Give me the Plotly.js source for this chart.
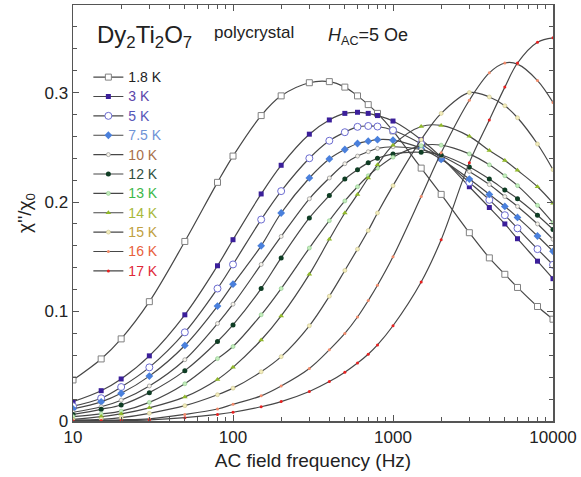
<!DOCTYPE html>
<html>
<head>
<meta charset="utf-8">
<script src="https://cdn.plot.ly/plotly-3.0.1.min.js"></script>
<style>html,body{margin:0;padding:0;background:#fff;}#chart{width:581px;height:477px;}</style>
</head>
<body>
<div id="chart"></div>
<script>
// Frequencies (Hz)
const freq = [10,15,20,30,50,80,100,150,200,300,400,500,600,700,800,1000,1500,2000,3000,4000,5000,6000,8000,10000];

// chi''/chi0 values per temperature
const T1_8 = [0.0375,0.0567,0.075,0.109,0.164,0.218,0.242,0.279,0.297,0.309,0.310,0.305,0.297,0.289,0.281,0.265,0.231,0.207,0.172,0.149,0.134,0.122,0.1046,0.093];
const T3   = [0.0177,0.0277,0.0384,0.0595,0.097,0.1418,0.1656,0.2074,0.2336,0.262,0.275,0.281,0.282,0.281,0.279,0.274,0.257,0.241,0.214,0.195,0.180,0.1665,0.146,0.130];
const T5   = [0.0135,0.0208,0.031,0.049,0.081,0.121,0.143,0.184,0.210,0.240,0.256,0.2638,0.2687,0.2695,0.269,0.2656,0.253,0.240,0.218,0.202,0.188,0.176,0.157,0.1427];
const T7_5 = [0.011,0.0175,0.0253,0.041,0.069,0.105,0.125,0.160,0.190,0.222,0.2394,0.248,0.2535,0.2556,0.257,0.2565,0.249,0.239,0.221,0.207,0.196,0.186,0.169,0.155];
const T10  = [0.008,0.013,0.019,0.032,0.056,0.089,0.1067,0.143,0.1686,0.203,0.222,0.235,0.242,0.246,0.249,0.2505,0.248,0.242,0.228,0.216,0.205,0.196,0.180,0.166];
const T12  = [0.006,0.0107,0.0146,0.0259,0.046,0.0726,0.0878,0.121,0.149,0.1855,0.206,0.221,0.2296,0.236,0.240,0.244,0.2455,0.243,0.232,0.221,0.211,0.203,0.188,0.175];
const T13  = [0.004,0.0065,0.009,0.017,0.034,0.057,0.068,0.097,0.121,0.158,0.183,0.201,0.214,0.224,0.231,0.241,0.2515,0.252,0.244,0.234,0.224,0.215,0.197,0.181];
const T14  = [0.0015,0.004,0.0065,0.012,0.022,0.038,0.049,0.074,0.096,0.134,0.166,0.190,0.207,0.222,0.234,0.252,0.269,0.270,0.260,0.247,0.238,0.229,0.214,0.199];
const T15  = [0.0008,0.0015,0.003,0.007,0.014,0.024,0.030,0.045,0.0588,0.087,0.114,0.1375,0.157,0.174,0.190,0.215,0.257,0.281,0.300,0.296,0.288,0.277,0.253,0.2296];
const T16  = [0.0003,0.0005,0.001,0.002,0.006,0.011,0.0153,0.023,0.032,0.048,0.065,0.080,0.095,0.110,0.124,0.150,0.205,0.245,0.293,0.318,0.327,0.326,0.311,0.291];
const T17  = [0.0001,0.0002,0.0004,0.001,0.003,0.006,0.008,0.013,0.0177,0.027,0.036,0.0446,0.053,0.061,0.0695,0.087,0.127,0.1656,0.236,0.275,0.305,0.327,0.346,0.350];

const labels = ['1.8 K','3 K','5 K','7.5 K','10 K','12 K','13 K','14 K','15 K','16 K','17 K'];
const series = [T1_8,T3,T5,T7_5,T10,T12,T13,T14,T15,T16,T17];

const xTickVals = [10,100,1000,10000];
const xTickText = ['10','100','1000','10000'];
const xMinorVals = [20,30,40,50,60,70,80,90,200,300,400,500,600,700,800,900,2000,3000,4000,5000,6000,7000,8000,9000];
const yTickVals = [0,0.1,0.2,0.3];
const yTickText = ['0','0.1','0.2','0.3'];

// styles
const textColors = ['#222222','#5a46aa','#5656b8','#6f93d6','#a8704a','#2f4f40','#3cb84a','#a8b83a','#c0a040','#e8603c','#e02838'];
const markerStyles = [
  {symbol:'square', color:'#ffffff', size:6, line:{color:'#808080', width:1}},
  {symbol:'square', color:'#3b1f9a', size:5, line:{color:'#3b1f9a', width:0}},
  {symbol:'circle', color:'#ffffff', size:7, line:{color:'#6a6ad0', width:1}},
  {symbol:'diamond', color:'#4a80dc', size:6, line:{color:'#4a80dc', width:0}},
  {symbol:'circle', color:'#f6f3ea', size:4, line:{color:'#9a9a9a', width:0.8}},
  {symbol:'circle', color:'#0f3d24', size:5, line:{color:'#0f3d24', width:0}},
  {symbol:'circle', color:'#c4ecbc', size:4, line:{color:'#8cc98a', width:0.6}},
  {symbol:'triangle-up', color:'#90b82a', size:5, line:{color:'#90b82a', width:0}},
  {symbol:'circle', color:'#f2ecbc', size:4, line:{color:'#c9c28a', width:0.6}},
  {symbol:'circle', color:'#f08a6a', size:3, line:{color:'#f08a6a', width:0}},
  {symbol:'circle', color:'#e82020', size:3, line:{color:'#e82020', width:0}}
];

const traces = series.map((vals, i) => ({
  x: freq,
  y: vals,
  type: 'scatter',
  mode: 'lines+markers',
  name: '<span style="color:' + textColors[i] + ';font-size:14px">' + labels[i] + '</span>',
  line: {color: '#474747', width: 1.2, shape: 'spline', smoothing: 1},
  marker: markerStyles[i]
}));

const axisCommon = {
  showline: true, linecolor: '#555', linewidth: 1.5, mirror: 'ticks',
  ticks: 'inside', ticklen: 6, tickcolor: '#555', tickwidth: 1,
  showgrid: false, zeroline: false,
  tickfont: {family: 'Liberation Sans, Arial, sans-serif', size: 17, color: '#222'}
};

const layout = {
  width: 581, height: 477,
  margin: {l: 73, r: 28, t: 5, b: 56},
  paper_bgcolor: '#fff', plot_bgcolor: '#fff',
  font: {family: 'Liberation Sans, Arial, sans-serif', color: '#222'},
  showlegend: true,
  legend: {
    x: 0.032, y: 0.862, xanchor: 'left', yanchor: 'top',
    bgcolor: 'rgba(0,0,0,0)', borderwidth: 0,
    font: {family: 'Liberation Sans, Arial, sans-serif', size: 12.6},
    tracegroupgap: 0
  },
  xaxis: Object.assign({}, axisCommon, {
    type: 'log', range: [1, 4],
    tickmode: 'array', tickvals: xTickVals, ticktext: xTickText,
    minor: {tickmode: 'array', tickvals: xMinorVals, ticks: 'inside', ticklen: 4, tickcolor: '#555', showgrid: false},
    title: {text: 'AC field frequency (Hz)', font: {size: 19, color: '#222'}, standoff: 8}
  }),
  yaxis: Object.assign({}, axisCommon, {
    range: [0, 0.38],
    tickmode: 'array', tickvals: yTickVals, ticktext: yTickText,
    minor: {dtick: 0.02, ticks: 'inside', ticklen: 4, tickcolor: '#555', showgrid: false},
    title: {text: 'χ\'\'/χ<sub>0</sub>', font: {size: 19, color: '#222'}, standoff: 8}
  }),
  annotations: [
    {xref: 'paper', yref: 'paper', x: 0.046, y: 0.925, xanchor: 'left', yanchor: 'middle', showarrow: false,
     text: 'Dy<sub>2</sub>Ti<sub>2</sub>O<sub>7</sub>', font: {size: 24, color: '#222'}},
    {xref: 'paper', yref: 'paper', x: 0.29, y: 0.933, xanchor: 'left', yanchor: 'middle', showarrow: false,
     text: 'polycrystal', font: {size: 17, color: '#222'}},
    {xref: 'paper', yref: 'paper', x: 0.528, y: 0.925, xanchor: 'left', yanchor: 'middle', showarrow: false,
     text: '<i>H</i><sub>AC</sub>=5 Oe', font: {size: 18, color: '#222'}}
  ]
};

Plotly.newPlot('chart', traces, layout, {staticPlot: true, displayModeBar: false});
</script>
</body>
</html>
